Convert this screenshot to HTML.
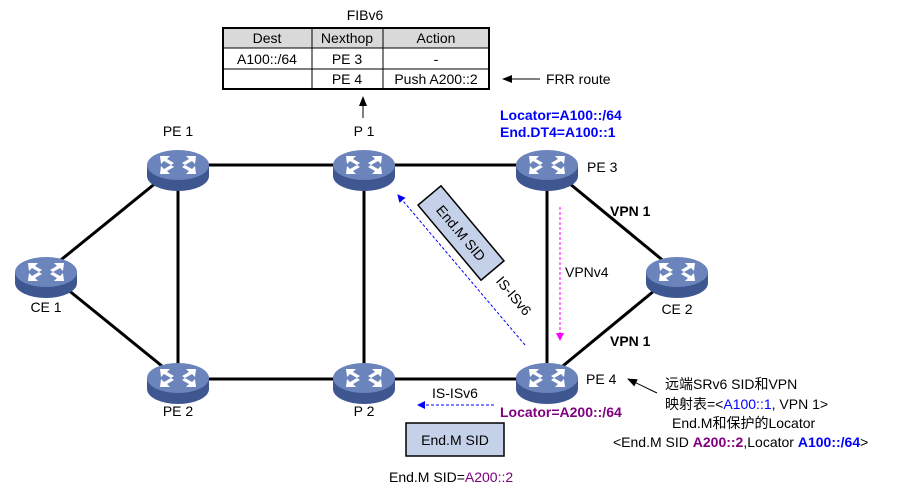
<!DOCTYPE html>
<html><head><meta charset="utf-8"><style>
body{margin:0;background:#fff}
svg{display:block;font-family:"Liberation Sans","Noto Sans CJK SC",sans-serif}
</style></head><body>
<svg width="912" height="491" viewBox="0 0 912 491" xmlns="http://www.w3.org/2000/svg">
<defs>
<g id="r">
<path d="M-31,-5 L-31,6 A31,15 0 0 0 31,6 L31,-5 Z" fill="#3f5791"/>
<ellipse cx="0" cy="-5" rx="31" ry="15" fill="#6b84bb"/>
<g fill="#fff">
<path d="M-18,-14 L-8,-14 L-11,-11 L-4,-7 L-7,-5 L-14,-9 L-17,-6 Z"/>
<path d="M18,-14 L8,-14 L11,-11 L4,-7 L7,-5 L14,-9 L17,-6 Z"/>
<path d="M-18,4 L-8,4 L-11,1 L-4,-3 L-7,-5 L-14,-1 L-17,-4 Z"/>
<path d="M18,4 L8,4 L11,1 L4,-3 L7,-5 L14,-1 L17,-4 Z"/>
</g>
</g>
<marker id="ab" markerWidth="8" markerHeight="8" refX="7" refY="4" orient="auto" markerUnits="userSpaceOnUse"><path d="M0,0 L8,4 L0,8 Z" fill="#0000ff"/></marker>
<marker id="am" markerWidth="8" markerHeight="8" refX="7" refY="4" orient="auto" markerUnits="userSpaceOnUse"><path d="M0,0 L8,4 L0,8 Z" fill="#ff00ff"/></marker>
<marker id="ak" markerWidth="10" markerHeight="8" refX="9" refY="4" orient="auto" markerUnits="userSpaceOnUse"><path d="M0,0 L10,4 L0,8 Z" fill="#000"/></marker>
</defs>

<g stroke="#000" stroke-width="3">
<line x1="178" y1="165" x2="364" y2="165"/>
<line x1="364" y1="165" x2="547" y2="165"/>
<line x1="178" y1="165" x2="178" y2="379"/>
<line x1="364" y1="165" x2="364" y2="379"/>
<line x1="547" y1="165" x2="547" y2="379"/>
<line x1="178" y1="379" x2="364" y2="379"/>
<line x1="364" y1="379" x2="547" y2="379"/>
<line x1="46" y1="272" x2="178" y2="165"/>
<line x1="46" y1="272" x2="178" y2="379"/>
<line x1="677" y1="272" x2="547" y2="165"/>
<line x1="677" y1="272" x2="547" y2="379"/>
</g>

<use href="#r" x="178" y="170"/>
<use href="#r" x="364" y="170"/>
<use href="#r" x="547" y="170"/>
<use href="#r" x="46" y="277"/>
<use href="#r" x="677" y="277"/>
<use href="#r" x="178" y="383"/>
<use href="#r" x="364" y="383"/>
<use href="#r" x="547" y="383"/>

<g font-size="14" fill="#000">
<text x="178" y="136" text-anchor="middle">PE 1</text>
<text x="364" y="136" text-anchor="middle">P 1</text>
<text x="587" y="172">PE 3</text>
<text x="46" y="312" text-anchor="middle">CE 1</text>
<text x="677" y="314" text-anchor="middle">CE 2</text>
<text x="178" y="416" text-anchor="middle">PE 2</text>
<text x="364" y="416" text-anchor="middle">P 2</text>
<text x="586" y="384">PE 4</text>
</g>

<text x="365" y="20" font-size="14" text-anchor="middle">FIBv6</text>
<rect x="223" y="28" width="266" height="20" fill="#d9d9d9"/>
<g stroke="#000" fill="none">
<rect x="223" y="28" width="266" height="61" stroke-width="2"/>
<line x1="223" y1="48" x2="489" y2="48"/>
<line x1="223" y1="69" x2="489" y2="69"/>
<line x1="312" y1="28" x2="312" y2="89"/>
<line x1="383" y1="28" x2="383" y2="89"/>
</g>
<g font-size="14" text-anchor="middle">
<text x="267" y="43">Dest</text><text x="347" y="43">Nexthop</text><text x="436" y="43">Action</text>
<text x="267" y="64">A100::/64</text><text x="347" y="64">PE 3</text><text x="436" y="64">-</text>
<text x="347" y="84">PE 4</text><text x="436" y="84">Push A200::2</text>
</g>
<line x1="540" y1="79" x2="503" y2="79" stroke="#000" marker-end="url(#ak)"/>
<text x="546" y="84" font-size="14">FRR route</text>
<line x1="363" y1="118" x2="363" y2="97" stroke="#000" marker-end="url(#ak)"/>

<g font-size="14" font-weight="bold" fill="#0000ff">
<text x="500" y="120">Locator=A100::/64</text>
<text x="500" y="137">End.DT4=A100::1</text>
</g>
<g font-size="14" font-weight="bold">
<text x="610" y="216">VPN 1</text>
<text x="610" y="346">VPN 1</text>
</g>

<line x1="525" y1="345" x2="398" y2="195" stroke="#0000ff" stroke-dasharray="3,2" marker-end="url(#ab)"/>
<g transform="translate(461,233) rotate(50)">
<rect x="-49" y="-15" width="98" height="30" fill="#c5d1e8" stroke="#000" stroke-width="1.5"/>
<text x="0" y="5" font-size="14" text-anchor="middle">End.M SID</text>
</g>
<text transform="translate(510,299) rotate(50)" font-size="14" text-anchor="middle">IS-ISv6</text>

<line x1="560" y1="207" x2="560" y2="340" stroke="#ff00ff" stroke-dasharray="3,2" marker-end="url(#am)"/>
<text x="565" y="277" font-size="14">VPNv4</text>

<text x="455" y="398" font-size="14" text-anchor="middle">IS-ISv6</text>
<line x1="494" y1="405" x2="418" y2="405" stroke="#0000ff" stroke-dasharray="3,2" marker-end="url(#ab)"/>
<text x="500" y="417" font-size="14" font-weight="bold" fill="#800080">Locator=A200::/64</text>
<rect x="406" y="423" width="98" height="33" fill="#c5d1e8" stroke="#000" stroke-width="1.5"/>
<text x="455" y="445" font-size="14" text-anchor="middle">End.M SID</text>
<text x="389" y="482" font-size="14">End.M SID=<tspan fill="#800080">A200::2</tspan></text>

<line x1="657" y1="393" x2="628" y2="379" stroke="#000" marker-end="url(#ak)"/>
<g font-size="14">
<text x="665" y="389">远端SRv6 SID和VPN</text>
<text x="665" y="409">映射表=&lt;<tspan fill="#0000ff">A100::1</tspan>, VPN 1&gt;</text>
<text x="672" y="428">End.M和保护的Locator</text>
<text x="613" y="447">&lt;End.M SID <tspan font-weight="bold" fill="#800080">A200::2</tspan>,Locator <tspan font-weight="bold" fill="#0000ff">A100::/64</tspan>&gt;</text>
</g>
</svg>
</body></html>
